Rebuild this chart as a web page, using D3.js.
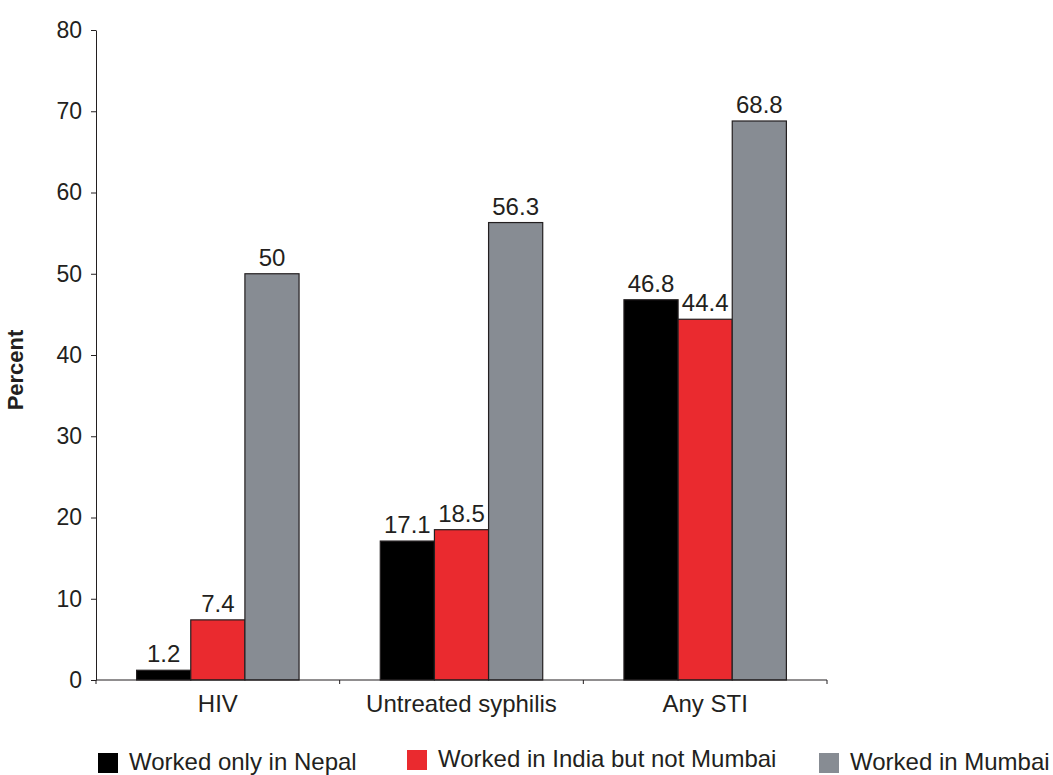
<!DOCTYPE html>
<meta charset="utf-8">
<script src="https://d3js.org/d3.v7.min.js"></script>
<style>
    body { margin: 0; background: #fff; }
    text { font-family: "Liberation Sans", Arial, sans-serif; fill: #231f20; }
</style>
<div id="chart"></div>
<script>
    // data
    var categories = ["HIV", "Untreated syphilis", "Any STI"];
    var seriesNames = ["Worked only in Nepal", "Worked in India but not Mumbai", "Worked in Mumbai"];
    var nepal = [1.2, 17.1, 46.8];
    var indiaNotMumbai = [7.4, 18.5, 44.4];
    var mumbai = [50, 56.3, 68.8];
    var yTicks = [0, 10, 20, 30, 40, 50, 60, 70, 80];
    var colors = ["#000000", "#ea2a2f", "#878c93"];

    var seriesValues = [nepal, indiaNotMumbai, mumbai];

    var width = 1053, height = 775;
    var margin = { top: 30, right: 226, bottom: 95, left: 96 };
    var innerW = width - margin.left - margin.right,
        innerH = height - margin.top - margin.bottom;

    var svg = d3.select("#chart").append("svg")
        .attr("width", width)
        .attr("height", height);

    var g = svg.append("g")
        .attr("transform", "translate(" + margin.left + "," + margin.top + ")");

    var y = d3.scaleLinear().domain([0, 80]).range([innerH, 0]);

    var x0 = d3.scaleBand()
        .domain(categories)
        .range([0, innerW])
        .paddingInner(0)
        .paddingOuter(0);

    var x1 = d3.scaleBand()
        .domain(seriesNames)
        .range([0, x0.bandwidth()])
        .paddingInner(0)
        .paddingOuter(0.75);

    // y axis
    var yAxis = g.append("g")
        .call(d3.axisLeft(y).tickValues(yTicks).tickSize(5).tickPadding(9).tickSizeOuter(0));
    yAxis.select(".domain").attr("stroke", "#231f20");
    yAxis.selectAll(".tick line").attr("stroke", "#231f20");
    yAxis.selectAll(".tick text")
        .style("font-size", "23px")
        .style("font-family", "'Liberation Sans', Arial, sans-serif")
        .attr("fill", "#231f20");

    g.append("text")
        .attr("transform", "translate(" + (-73) + "," + (innerH / 2 + 15) + ")rotate(-90)")
        .attr("text-anchor", "middle")
        .style("font-size", "22px")
        .style("font-weight", "bold")
        .text("Percent");

    // groups of bars
    var groups = g.selectAll(".grp")
        .data(categories)
        .enter().append("g")
        .attr("class", "grp")
        .attr("transform", function (d) { return "translate(" + x0(d) + ",0)"; });

    groups.selectAll("rect")
        .data(function (d, ci) {
            return seriesNames.map(function (s, si) {
                return { series: s, idx: si, value: seriesValues[si][ci] };
            });
        })
        .enter().append("rect")
        .attr("x", function (d) { return x1(d.series); })
        .attr("width", x1.bandwidth())
        .attr("y", function (d) { return y(d.value); })
        .attr("height", function (d) { return innerH - y(d.value); })
        .attr("fill", function (d) { return colors[d.idx]; })
        .attr("stroke", "#231f20")
        .attr("stroke-width", 1.2);

    groups.selectAll(".val")
        .data(function (d, ci) {
            return seriesNames.map(function (s, si) {
                return { series: s, value: seriesValues[si][ci] };
            });
        })
        .enter().append("text")
        .attr("class", "val")
        .attr("x", function (d) { return x1(d.series) + x1.bandwidth() / 2; })
        .attr("y", function (d) { return y(d.value) - 8; })
        .attr("text-anchor", "middle")
        .style("font-size", "24px")
        .text(function (d) { return d.value; });

    // x axis (ticks between groups)
    var xAxis = g.append("g")
        .attr("transform", "translate(0," + innerH + ")");
    xAxis.append("line")
        .attr("x1", 0).attr("x2", innerW)
        .attr("stroke", "#231f20");
    var bounds = categories.map(function (c) { return x0(c); }).concat([innerW]);
    xAxis.selectAll(".xt")
        .data(bounds)
        .enter().append("line")
        .attr("x1", function (d) { return d; })
        .attr("x2", function (d) { return d; })
        .attr("y1", 0).attr("y2", 4)
        .attr("stroke", "#231f20");
    xAxis.selectAll(".xl")
        .data(categories)
        .enter().append("text")
        .attr("x", function (d) { return x0(d) + x0.bandwidth() / 2; })
        .attr("y", 32)
        .attr("text-anchor", "middle")
        .style("font-size", "24px")
        .text(function (d) { return d; });

    // legend
    var legendX = [98, 407, 819];
    var legendY = [753, 750, 753];
    var legend = svg.selectAll(".leg")
        .data(seriesNames)
        .enter().append("g")
        .attr("class", "leg")
        .attr("transform", function (d, i) { return "translate(" + legendX[i] + "," + legendY[i] + ")"; });
    legend.append("rect")
        .attr("width", 20).attr("height", 20)
        .attr("fill", function (d, i) { return colors[i]; });
    legend.append("text")
        .attr("x", 31)
        .attr("y", 17)
        .style("font-size", "24px")
        .text(function (d) { return d; });
</script>
